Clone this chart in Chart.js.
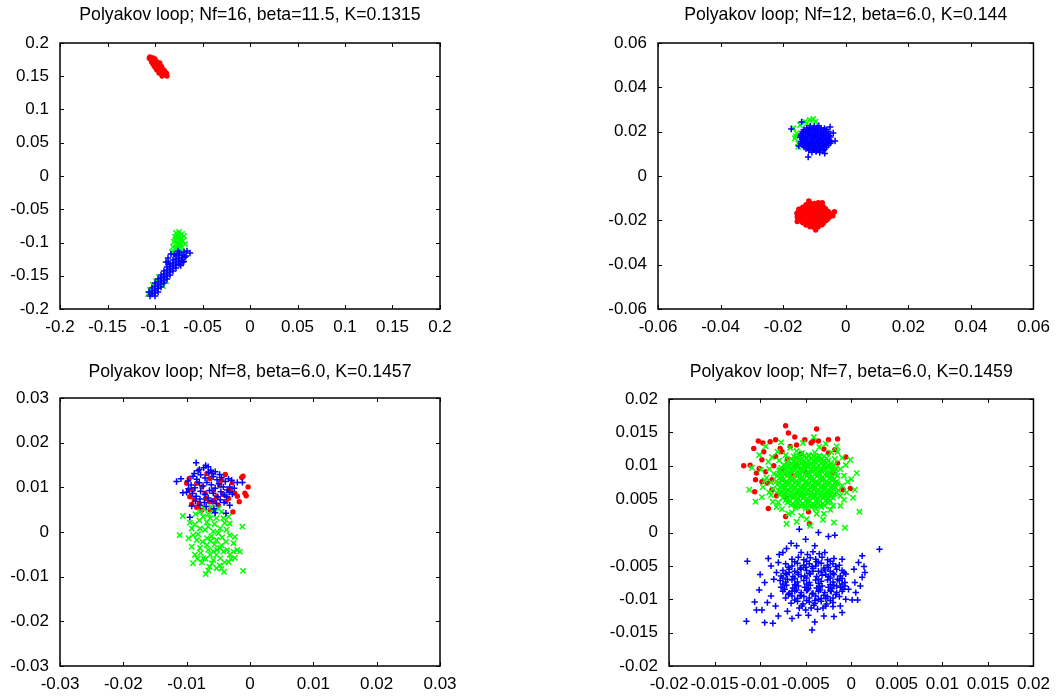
<!DOCTYPE html>
<html>
<head>
<meta charset="utf-8">
<script src="https://cdn.jsdelivr.net/npm/chart.js@4/dist/chart.umd.min.js"></script>
<style>
  html, body { margin: 0; padding: 0; background: #fff; }
  #wrap { position: relative; width: 1058px; height: 696px; overflow: hidden; }
  #wrap canvas { position: absolute; }
</style>
</head>
<body>
<div id="wrap">
  <canvas id="c1" width="529" height="355" style="left:0;top:0"></canvas>
  <canvas id="c2" width="529" height="355" style="left:529px;top:0"></canvas>
  <canvas id="c3" width="529" height="341" style="left:0;top:355px"></canvas>
  <canvas id="c4" width="529" height="341" style="left:529px;top:355px"></canvas>
</div>
<script>
// ---- Panel titles ----
const titles = [
  'Polyakov loop; Nf=16, beta=11.5, K=0.1315',
  'Polyakov loop; Nf=12, beta=6.0, K=0.144',
  'Polyakov loop; Nf=8, beta=6.0, K=0.1457',
  'Polyakov loop; Nf=7, beta=6.0, K=0.1459'
];

// ---- Tick values and labels (same on both axes of each panel) ----
const ticks1 = [-0.2, -0.15, -0.1, -0.05, 0, 0.05, 0.1, 0.15, 0.2];
const labels1 = ['-0.2', '-0.15', '-0.1', '-0.05', '0', '0.05', '0.1', '0.15', '0.2'];
const ticks2 = [-0.06, -0.04, -0.02, 0, 0.02, 0.04, 0.06];
const labels2 = ['-0.06', '-0.04', '-0.02', '0', '0.02', '0.04', '0.06'];
const ticks3 = [-0.03, -0.02, -0.01, 0, 0.01, 0.02, 0.03];
const labels3 = ['-0.03', '-0.02', '-0.01', '0', '0.01', '0.02', '0.03'];
const ticks4 = [-0.02, -0.015, -0.01, -0.005, 0, 0.005, 0.01, 0.015, 0.02];
const labels4 = ['-0.02', '-0.015', '-0.01', '-0.005', '0', '0.005', '0.01', '0.015', '0.02'];

// ---- Panel 1: Nf=16 ----
const p1Red = [
  [-0.1053,0.1789],[-0.1021,0.1774],[-0.1042,0.1744],[-0.1011,0.1729],[-0.0979,0.1714],
  [-0.1021,0.1684],[-0.0989,0.1684],[-0.0958,0.1669],[-0.1000,0.1639],[-0.0968,0.1624],
  [-0.0937,0.1624],[-0.0979,0.1594],[-0.0947,0.1579],[-0.0916,0.1594],[-0.0958,0.1549],
  [-0.0926,0.1549],[-0.0895,0.1564],[-0.0926,0.1504],[-0.0895,0.1519],[-0.0874,0.1504],
  [-0.0905,0.1534],[-0.0937,0.1654],[-0.1000,0.1759],
  [-0.0950,0.1700],[-0.0930,0.1640],[-0.0905,0.1590],[-0.1035,0.1715],[-0.1010,0.1660],
  [-0.0985,0.1610],[-0.0880,0.1545],[-0.1060,0.1770]
];
const p1Green = [
  [-0.0779,-0.0857],[-0.0747,-0.0842],[-0.0716,-0.0872],[-0.0789,-0.0917],[-0.0758,-0.0932],
  [-0.0726,-0.0932],[-0.0695,-0.0902],[-0.0800,-0.0992],[-0.0768,-0.1008],[-0.0737,-0.0992],
  [-0.0705,-0.0977],[-0.0684,-0.1023],[-0.0811,-0.1068],[-0.0779,-0.1083],[-0.0747,-0.1068],
  [-0.0716,-0.1068],[-0.0789,-0.1143],[-0.0726,-0.1128],[-0.0821,-0.1143],
  [-0.0763,-0.0895],[-0.0732,-0.0960],[-0.0785,-0.0960],[-0.0760,-0.1040],[-0.0730,-0.1030],
  [-0.1053,-0.1714],[-0.1021,-0.1639],[-0.0989,-0.1579],[-0.0958,-0.1519],[-0.0916,-0.1654],
  [-0.0884,-0.1579],[-0.0863,-0.1308],[-0.1074,-0.1774]
];
const p1Blue = [
  [-0.1032,-0.1774],[-0.1000,-0.1714],[-0.0968,-0.1639],[-0.0937,-0.1579],[-0.0905,-0.1519],
  [-0.0874,-0.1459],[-0.0842,-0.1398],[-0.0811,-0.1353],[-0.0779,-0.1293],[-0.0747,-0.1233],
  [-0.0716,-0.1188],
  [-0.1000,-0.1805],[-0.0968,-0.1744],[-0.0937,-0.1669],[-0.0905,-0.1609],[-0.0874,-0.1549],
  [-0.0842,-0.1489],[-0.0811,-0.1429],[-0.0779,-0.1383],[-0.0747,-0.1323],[-0.0716,-0.1263],
  [-0.0684,-0.1218],
  [-0.1063,-0.1744],[-0.1032,-0.1684],[-0.1000,-0.1609],[-0.0968,-0.1549],[-0.0937,-0.1489],
  [-0.0905,-0.1429],[-0.0874,-0.1368],[-0.0842,-0.1323],[-0.0811,-0.1263],[-0.0779,-0.1203],
  [-0.0747,-0.1158],
  [-0.1001,-0.1760],[-0.0969,-0.1693],[-0.0938,-0.1625],[-0.0906,-0.1565],[-0.0875,-0.1505],
  [-0.0843,-0.1445],[-0.0812,-0.1392],[-0.0780,-0.1339],[-0.0748,-0.1279],[-0.0717,-0.1227],
  [-0.1031,-0.1728],[-0.0999,-0.1661],[-0.0968,-0.1593],[-0.0936,-0.1533],[-0.0905,-0.1473],
  [-0.0873,-0.1413],[-0.0842,-0.1360],[-0.0810,-0.1307],[-0.0778,-0.1247],[-0.0747,-0.1195],
  [-0.0695,-0.1143],[-0.0663,-0.1128],[-0.0632,-0.1158],[-0.0674,-0.1203],[-0.0758,-0.1128],
  [-0.0884,-0.1293],[-0.0863,-0.1233],[-0.0832,-0.1173],[-0.0705,-0.1293],[-0.1053,-0.1805],
  [-0.0729,-0.1347],[-0.0697,-0.1287],[-0.0797,-0.1179],[-0.0861,-0.1299]
];

// ---- Panel 2: Nf=12 ----
const p2Red = [
  [-0.0115,-0.0121],[-0.0101,-0.0124],[-0.0088,-0.0120],
  [-0.0127,-0.0130],[-0.0114,-0.0132],[-0.0101,-0.0130],[-0.0088,-0.0133],[-0.0076,-0.0131],
  [-0.0137,-0.0141],[-0.0125,-0.0138],[-0.0111,-0.0142],[-0.0098,-0.0139],[-0.0085,-0.0141],[-0.0072,-0.0138],
  [-0.0143,-0.0149],[-0.0130,-0.0150],[-0.0117,-0.0148],[-0.0104,-0.0150],[-0.0091,-0.0148],[-0.0078,-0.0150],[-0.0065,-0.0148],
  [-0.0147,-0.0157],[-0.0133,-0.0160],[-0.0121,-0.0156],[-0.0107,-0.0159],[-0.0094,-0.0156],[-0.0082,-0.0160],[-0.0068,-0.0157],[-0.0057,-0.0159],
  [-0.0152,-0.0166],[-0.0140,-0.0168],[-0.0127,-0.0166],[-0.0114,-0.0168],[-0.0101,-0.0166],[-0.0088,-0.0168],[-0.0075,-0.0166],[-0.0063,-0.0168],[-0.0052,-0.0167],
  [-0.0149,-0.0177],[-0.0135,-0.0174],[-0.0123,-0.0178],[-0.0109,-0.0175],[-0.0096,-0.0178],[-0.0083,-0.0174],[-0.0070,-0.0177],[-0.0057,-0.0175],
  [-0.0152,-0.0185],[-0.0140,-0.0186],[-0.0127,-0.0184],[-0.0114,-0.0186],[-0.0101,-0.0184],[-0.0088,-0.0186],[-0.0075,-0.0184],[-0.0063,-0.0186],[-0.0052,-0.0185],
  [-0.0146,-0.0193],[-0.0133,-0.0196],[-0.0120,-0.0192],[-0.0107,-0.0195],[-0.0094,-0.0193],[-0.0081,-0.0196],[-0.0068,-0.0192],[-0.0058,-0.0195],
  [-0.0142,-0.0203],[-0.0129,-0.0204],[-0.0116,-0.0202],[-0.0103,-0.0204],[-0.0090,-0.0202],[-0.0077,-0.0204],[-0.0064,-0.0202],
  [-0.0137,-0.0211],[-0.0124,-0.0214],[-0.0111,-0.0210],[-0.0098,-0.0213],[-0.0085,-0.0211],[-0.0072,-0.0214],
  [-0.0127,-0.0221],[-0.0114,-0.0222],[-0.0101,-0.0220],[-0.0088,-0.0222],[-0.0076,-0.0220],
  [-0.0114,-0.0229],[-0.0101,-0.0232],[-0.0088,-0.0229],
  [-0.0036,-0.0161],[-0.0041,-0.0179],[-0.0096,-0.0244],[-0.0155,-0.0205],[-0.0150,-0.0150],
  [-0.0118,-0.0113],[-0.0075,-0.0120],[-0.0155,-0.0185],[-0.0156,-0.0168]
];
const p2Green = [
  [-0.0167,0.0215],[-0.0162,0.0170],[-0.0152,0.0148],[-0.0157,0.0193],[-0.0115,0.0253],
  [-0.0104,0.0257],[-0.0130,0.0245],[-0.0146,0.0230],[-0.0152,0.0132],[-0.0120,0.0180],
  [-0.0090,0.0160],[-0.0135,0.0155],[-0.0105,0.0210],[-0.0075,0.0130],[-0.0160,0.0180],
  [-0.0125,0.0238],[-0.0097,0.0245]
];
const p2Blue = [
  [-0.0113,0.0226],[-0.0100,0.0223],[-0.0086,0.0227],
  [-0.0125,0.0216],[-0.0115,0.0218],[-0.0103,0.0215],[-0.0091,0.0218],[-0.0079,0.0216],[-0.0068,0.0214],
  [-0.0134,0.0209],[-0.0121,0.0206],[-0.0110,0.0211],[-0.0096,0.0207],[-0.0086,0.0210],[-0.0072,0.0205],[-0.0062,0.0209],
  [-0.0138,0.0199],[-0.0126,0.0201],[-0.0114,0.0198],[-0.0101,0.0201],[-0.0089,0.0199],[-0.0077,0.0202],[-0.0065,0.0198],[-0.0055,0.0200],
  [-0.0142,0.0190],[-0.0128,0.0193],[-0.0118,0.0189],[-0.0104,0.0192],[-0.0094,0.0188],[-0.0080,0.0193],[-0.0070,0.0189],[-0.0056,0.0191],
  [-0.0144,0.0182],[-0.0135,0.0184],[-0.0124,0.0181],[-0.0112,0.0184],[-0.0100,0.0182],[-0.0088,0.0185],[-0.0077,0.0181],[-0.0065,0.0183],[-0.0053,0.0182],
  [-0.0146,0.0175],[-0.0132,0.0172],[-0.0122,0.0176],[-0.0108,0.0173],[-0.0098,0.0177],[-0.0084,0.0172],[-0.0074,0.0175],[-0.0060,0.0173],[-0.0049,0.0176],
  [-0.0139,0.0166],[-0.0126,0.0164],[-0.0114,0.0167],[-0.0102,0.0165],[-0.0090,0.0167],[-0.0078,0.0164],[-0.0065,0.0166],[-0.0053,0.0164],
  [-0.0143,0.0156],[-0.0130,0.0159],[-0.0120,0.0155],[-0.0106,0.0158],[-0.0094,0.0155],[-0.0082,0.0159],[-0.0070,0.0156],[-0.0058,0.0158],[-0.0046,0.0155],
  [-0.0143,0.0148],[-0.0134,0.0149],[-0.0122,0.0147],[-0.0110,0.0150],[-0.0098,0.0147],[-0.0086,0.0149],[-0.0074,0.0147],[-0.0062,0.0150],[-0.0050,0.0148],
  [-0.0139,0.0141],[-0.0127,0.0138],[-0.0115,0.0142],[-0.0103,0.0139],[-0.0091,0.0141],[-0.0079,0.0138],[-0.0067,0.0142],[-0.0056,0.0139],
  [-0.0133,0.0131],[-0.0121,0.0133],[-0.0109,0.0130],[-0.0097,0.0132],[-0.0085,0.0130],[-0.0073,0.0133],[-0.0062,0.0130],
  [-0.0127,0.0124],[-0.0115,0.0121],[-0.0103,0.0125],[-0.0091,0.0122],[-0.0079,0.0124],[-0.0068,0.0121],
  [-0.0118,0.0115],[-0.0106,0.0117],[-0.0094,0.0114],[-0.0082,0.0116],[-0.0072,0.0114],
  [-0.0108,0.0107],[-0.0095,0.0110],[-0.0083,0.0106],
  [-0.0120,0.0086],[-0.0174,0.0212],[-0.0141,0.0244],[-0.0034,0.0158],[-0.0050,0.0221],
  [-0.0040,0.0194],[-0.0067,0.0102],[-0.0150,0.0135]
];

// ---- Panel 3: Nf=8 ----
const p3Red = [
  [-0.0096,0.0120],[-0.0100,0.0109],[-0.0097,0.0094],[-0.0095,0.0079],[-0.0088,0.0073],
  [-0.0080,0.0064],[-0.0076,0.0049],[-0.0064,0.0068],[-0.0063,0.0049],[-0.0050,0.0060],
  [-0.0038,0.0068],[-0.0034,0.0075],[-0.0027,0.0045],[-0.0017,0.0068],[-0.0008,0.0087],
  [-0.0006,0.0081],[-0.0003,0.0101],[-0.0013,0.0122],[-0.0011,0.0125],[-0.0039,0.0129],
  [-0.0045,0.0116],[-0.0031,0.0094],[-0.0024,0.0087],[-0.0063,0.0120],[-0.0076,0.0101],
  [-0.0071,0.0087],[-0.0058,0.0094],[-0.0053,0.0079],[-0.0084,0.0109],[-0.0090,0.0094],
  [-0.0068,0.0131],[-0.0084,0.0055],[-0.0043,0.0084],[-0.0048,0.0104],
  [-0.0057,0.0070],[-0.0070,0.0075],[-0.0028,0.0110],[-0.0020,0.0080],[-0.0092,0.0062]
];
const p3Green = [
  [-0.0106,0.0036],[-0.0111,-0.0007],[-0.0095,0.0021],[-0.0097,-0.0014],[-0.0090,-0.0070],
  [-0.0076,-0.0068],[-0.0070,-0.0094],[-0.0064,-0.0078],[-0.0053,-0.0081],[-0.0041,-0.0089],
  [-0.0011,-0.0087],[-0.0012,0.0012],[-0.0020,-0.0040],[-0.0024,-0.0058],[-0.0032,0.0019],
  [-0.0032,-0.0007],[-0.0026,-0.0025],[-0.0038,-0.0022],[-0.0047,-0.0036],[-0.0058,-0.0044],
  [-0.0068,-0.0029],[-0.0079,-0.0036],[-0.0087,-0.0051],[-0.0092,-0.0033],[-0.0090,-0.0007],
  [-0.0079,0.0008],[-0.0066,0.0012],[-0.0058,0.0001],[-0.0047,0.0008],[-0.0042,0.0031],
  [-0.0053,0.0031],[-0.0063,0.0031],[-0.0074,0.0034],[-0.0079,0.0045],[-0.0058,0.0045],
  [-0.0045,0.0045],[-0.0034,0.0034],[-0.0068,-0.0014],[-0.0053,-0.0018],[-0.0074,-0.0059],
  [-0.0058,-0.0063],[-0.0047,-0.0059],[-0.0034,-0.0067],[-0.0032,-0.0051],[-0.0042,-0.0044],
  [-0.0084,-0.0018],[-0.0092,0.0008],[-0.0063,-0.0051],[-0.0053,-0.0051],[-0.0026,-0.0044],
  [-0.0016,-0.0044],[-0.0024,-0.0011],
  [-0.0087,0.0017],[-0.0082,-0.0005],[-0.0071,0.0005],[-0.0061,-0.0010],[-0.0050,-0.0003],
  [-0.0044,-0.0012],[-0.0037,0.0005],[-0.0078,-0.0047],[-0.0066,-0.0040],[-0.0056,-0.0028],
  [-0.0045,-0.0030],[-0.0036,-0.0040],[-0.0060,-0.0070],[-0.0048,-0.0075],[-0.0070,-0.0060],
  [-0.0083,-0.0060],[-0.0056,0.0018],[-0.0068,0.0022],[-0.0080,0.0026],[-0.0030,-0.0060],
  [-0.0040,-0.0068],[-0.0072,0.0052],[-0.0061,0.0056],[-0.0050,0.0052],
  [-0.0086,0.0040],[-0.0066,0.0040],[-0.0040,0.0020],[-0.0075,-0.0022],[-0.0062,-0.0020],
  [-0.0052,-0.0040],[-0.0066,-0.0086],[-0.0045,-0.0082]
];
const p3Blue = [
  [-0.0085,0.0155],[-0.0116,0.0113],[-0.0109,0.0119],[-0.0098,0.0114],[-0.0106,0.0088],
  [-0.0100,0.0089],[-0.0092,0.0058],[-0.0095,0.0033],[-0.0073,0.0144],[-0.0066,0.0146],
  [-0.0080,0.0140],[-0.0088,0.0131],[-0.0060,0.0131],[-0.0048,0.0129],[-0.0020,0.0111],
  [-0.0012,0.0111],[-0.0029,0.0116],[-0.0032,0.0101],[-0.0037,0.0079],[-0.0032,0.0060],
  [-0.0038,0.0042],[-0.0055,0.0043],[-0.0079,0.0060],
  [-0.0090,0.0125],[-0.0084,0.0118],[-0.0078,0.0128],[-0.0071,0.0121],[-0.0065,0.0133],
  [-0.0058,0.0124],[-0.0052,0.0117],[-0.0045,0.0122],[-0.0039,0.0113],[-0.0034,0.0119],
  [-0.0093,0.0105],[-0.0087,0.0099],[-0.0080,0.0110],[-0.0074,0.0103],[-0.0068,0.0111],
  [-0.0061,0.0106],[-0.0055,0.0098],[-0.0049,0.0108],[-0.0042,0.0101],[-0.0036,0.0094],
  [-0.0091,0.0086],[-0.0085,0.0080],[-0.0078,0.0091],[-0.0071,0.0084],[-0.0064,0.0093],
  [-0.0058,0.0087],[-0.0051,0.0079],[-0.0046,0.0090],[-0.0040,0.0083],[-0.0033,0.0089],
  [-0.0086,0.0069],[-0.0079,0.0074],[-0.0072,0.0066],[-0.0066,0.0076],[-0.0060,0.0069],
  [-0.0053,0.0064],[-0.0047,0.0072],[-0.0041,0.0066],[-0.0069,0.0057],[-0.0057,0.0052],
  [-0.0062,0.0138],[-0.0070,0.0149],[-0.0082,0.0137],
  [-0.0055,0.0135],[-0.0025,0.0098],[-0.0028,0.0085],[-0.0097,0.0097]
];

// ---- Panel 4: Nf=7 ----
const p4Red = [
  [-0.0072,0.0160],[-0.0038,0.0155],[-0.0069,0.0149],[-0.0102,0.0137],[-0.0097,0.0134],
  [-0.0107,0.0126],[-0.0118,0.0100],[-0.0111,0.0101],[-0.0104,0.0089],[-0.0105,0.0079],
  [-0.0106,0.0061],[-0.0091,0.0036],[-0.0072,0.0024],[-0.0046,0.0013],[-0.0015,0.0140],
  [-0.0025,0.0139],[-0.0006,0.0113],[-0.0001,0.0066],[-0.0009,0.0064],[-0.0089,0.0136],
  [-0.0083,0.0139],[-0.0062,0.0143],[-0.0051,0.0139],[-0.0042,0.0137],[-0.0036,0.0137],
  [-0.0060,0.0131],[-0.0067,0.0129],[-0.0078,0.0126],[-0.0096,0.0121],[-0.0098,0.0109],
  [-0.0101,0.0096],[-0.0098,0.0076],[-0.0092,0.0074],[-0.0087,0.0064],[-0.0082,0.0055],
  [-0.0071,0.0051],[-0.0047,0.0031],[-0.0025,0.0119],[-0.0018,0.0124],[-0.0015,0.0104],
  [-0.0044,0.0134],[-0.0076,0.0121],[-0.0083,0.0114],[-0.0094,0.0091],[-0.0087,0.0079],
  [-0.0070,0.0110],[-0.0060,0.0100],[-0.0050,0.0090],[-0.0075,0.0095],[-0.0065,0.0085],
  [-0.0055,0.0118],[-0.0030,0.0125],[-0.0085,0.0100],[-0.0020,0.0090]
];
const p4Green = [
  [-0.0054,0.0119],[-0.0047,0.0116],[-0.0040,0.0120],
  [-0.0063,0.0114],[-0.0057,0.0115],[-0.0052,0.0114],[-0.0046,0.0115],[-0.0041,0.0114],[-0.0035,0.0115],[-0.0030,0.0114],
  [-0.0066,0.0110],[-0.0060,0.0113],[-0.0055,0.0109],[-0.0049,0.0112],[-0.0044,0.0110],[-0.0038,0.0113],[-0.0033,0.0109],[-0.0027,0.0111],
  [-0.0069,0.0108],[-0.0063,0.0107],[-0.0058,0.0108],[-0.0052,0.0107],[-0.0047,0.0108],[-0.0041,0.0107],[-0.0036,0.0108],[-0.0030,0.0107],[-0.0025,0.0108],
  [-0.0071,0.0105],[-0.0066,0.0102],[-0.0060,0.0106],[-0.0055,0.0103],[-0.0050,0.0105],[-0.0044,0.0102],[-0.0039,0.0106],[-0.0033,0.0103],[-0.0028,0.0105],[-0.0022,0.0102],
  [-0.0074,0.0101],[-0.0069,0.0100],[-0.0063,0.0101],[-0.0058,0.0100],[-0.0052,0.0101],[-0.0047,0.0100],[-0.0041,0.0101],[-0.0036,0.0100],[-0.0030,0.0101],[-0.0025,0.0100],[-0.0019,0.0101],
  [-0.0077,0.0097],[-0.0071,0.0099],[-0.0066,0.0096],[-0.0060,0.0099],[-0.0055,0.0097],[-0.0049,0.0100],[-0.0044,0.0096],[-0.0038,0.0098],[-0.0033,0.0096],[-0.0027,0.0099],[-0.0021,0.0097],
  [-0.0078,0.0094],[-0.0072,0.0095],[-0.0066,0.0094],[-0.0061,0.0095],[-0.0055,0.0094],[-0.0050,0.0095],[-0.0044,0.0094],[-0.0039,0.0095],[-0.0033,0.0094],[-0.0028,0.0095],[-0.0022,0.0094],[-0.0017,0.0095],
  [-0.0079,0.0092],[-0.0074,0.0089],[-0.0068,0.0091],[-0.0063,0.0093],[-0.0057,0.0090],[-0.0052,0.0092],[-0.0046,0.0089],[-0.0041,0.0092],[-0.0035,0.0090],[-0.0030,0.0093],[-0.0024,0.0090],[-0.0018,0.0092],
  [-0.0079,0.0088],[-0.0073,0.0087],[-0.0068,0.0088],[-0.0062,0.0087],[-0.0057,0.0088],[-0.0051,0.0087],[-0.0046,0.0088],[-0.0040,0.0087],[-0.0035,0.0088],[-0.0029,0.0087],[-0.0024,0.0088],[-0.0018,0.0087],
  [-0.0081,0.0085],[-0.0076,0.0083],[-0.0070,0.0086],[-0.0065,0.0083],[-0.0059,0.0085],[-0.0054,0.0082],[-0.0048,0.0086],[-0.0043,0.0083],[-0.0037,0.0085],[-0.0032,0.0082],[-0.0026,0.0086],[-0.0021,0.0083],[-0.0015,0.0085],
  [-0.0079,0.0081],[-0.0074,0.0080],[-0.0068,0.0081],[-0.0063,0.0080],[-0.0057,0.0081],[-0.0052,0.0080],[-0.0046,0.0081],[-0.0041,0.0080],[-0.0035,0.0081],[-0.0030,0.0080],[-0.0024,0.0081],[-0.0019,0.0080],
  [-0.0082,0.0077],[-0.0077,0.0079],[-0.0071,0.0076],[-0.0066,0.0079],[-0.0060,0.0077],[-0.0055,0.0080],[-0.0049,0.0076],[-0.0044,0.0078],[-0.0038,0.0076],[-0.0033,0.0079],[-0.0027,0.0077],[-0.0022,0.0079],[-0.0016,0.0076],
  [-0.0079,0.0074],[-0.0073,0.0075],[-0.0068,0.0074],[-0.0062,0.0075],[-0.0057,0.0074],[-0.0051,0.0075],[-0.0046,0.0074],[-0.0040,0.0075],[-0.0035,0.0074],[-0.0029,0.0075],[-0.0024,0.0074],[-0.0018,0.0075],
  [-0.0081,0.0072],[-0.0075,0.0070],[-0.0070,0.0073],[-0.0064,0.0070],[-0.0059,0.0072],[-0.0053,0.0069],[-0.0048,0.0072],[-0.0042,0.0070],[-0.0037,0.0073],[-0.0031,0.0069],[-0.0026,0.0072],[-0.0020,0.0070],[-0.0015,0.0073],
  [-0.0078,0.0068],[-0.0072,0.0067],[-0.0067,0.0068],[-0.0061,0.0067],[-0.0056,0.0068],[-0.0050,0.0067],[-0.0045,0.0068],[-0.0039,0.0067],[-0.0034,0.0068],[-0.0028,0.0067],[-0.0023,0.0068],[-0.0017,0.0067],
  [-0.0080,0.0063],[-0.0074,0.0066],[-0.0069,0.0063],[-0.0063,0.0065],[-0.0058,0.0062],[-0.0052,0.0065],[-0.0047,0.0063],[-0.0041,0.0066],[-0.0036,0.0063],[-0.0030,0.0065],[-0.0025,0.0062],[-0.0019,0.0065],[-0.0014,0.0063],
  [-0.0077,0.0061],[-0.0071,0.0060],[-0.0066,0.0061],[-0.0060,0.0060],[-0.0055,0.0061],[-0.0049,0.0060],[-0.0044,0.0061],[-0.0038,0.0060],[-0.0033,0.0061],[-0.0027,0.0060],[-0.0022,0.0061],[-0.0016,0.0060],
  [-0.0078,0.0057],[-0.0073,0.0059],[-0.0067,0.0056],[-0.0062,0.0059],[-0.0056,0.0057],[-0.0051,0.0059],[-0.0045,0.0056],[-0.0040,0.0058],[-0.0034,0.0056],[-0.0029,0.0059],[-0.0023,0.0057],[-0.0018,0.0058],
  [-0.0073,0.0054],[-0.0067,0.0055],[-0.0062,0.0054],[-0.0056,0.0055],[-0.0051,0.0054],[-0.0045,0.0055],[-0.0040,0.0054],[-0.0034,0.0055],[-0.0029,0.0054],[-0.0023,0.0055],
  [-0.0075,0.0052],[-0.0069,0.0050],[-0.0064,0.0053],[-0.0058,0.0050],[-0.0053,0.0052],[-0.0047,0.0049],[-0.0042,0.0052],[-0.0036,0.0050],[-0.0031,0.0053],[-0.0025,0.0050],[-0.0020,0.0052],
  [-0.0072,0.0048],[-0.0067,0.0047],[-0.0061,0.0048],[-0.0056,0.0047],[-0.0050,0.0048],[-0.0045,0.0047],[-0.0039,0.0048],[-0.0034,0.0047],[-0.0028,0.0048],[-0.0023,0.0047],
  [-0.0070,0.0045],[-0.0064,0.0043],[-0.0059,0.0046],[-0.0053,0.0043],[-0.0048,0.0045],[-0.0042,0.0042],[-0.0037,0.0045],[-0.0031,0.0043],[-0.0026,0.0045],
  [-0.0066,0.0041],[-0.0061,0.0040],[-0.0056,0.0041],[-0.0050,0.0040],[-0.0045,0.0041],[-0.0039,0.0040],[-0.0034,0.0041],[-0.0029,0.0040],
  [-0.0061,0.0037],[-0.0055,0.0039],[-0.0050,0.0036],[-0.0044,0.0038],[-0.0039,0.0036],[-0.0033,0.0038],
  [-0.0112,0.0064],[-0.0105,0.0046],[0.0009,0.0031],[0.0006,0.0089],[0.0004,0.0064],
  [-0.0019,0.0015],[-0.0007,0.0007],[-0.0031,0.0019],[-0.0060,0.0016],[-0.0049,0.0020],
  [-0.0041,0.0143],[-0.0077,0.0135],[-0.0101,0.0116],[-0.0109,0.0097],[-0.0094,0.0129],
  [-0.0016,0.0129],[-0.0091,0.0106],[-0.0093,0.0082],[-0.0088,0.0056],[-0.0082,0.0038],
  [-0.0069,0.0028],[-0.0038,0.0028],[-0.0023,0.0034],[-0.0008,0.0049],[-0.0004,0.0076],
  [-0.0006,0.0101],[-0.0015,0.0121],[-0.0028,0.0133],[-0.0053,0.0134],[-0.0067,0.0127],
  [-0.0081,0.0121],[0.0002,0.0052],[-0.0001,0.0109],[-0.0099,0.0094],[-0.0097,0.0068],
  [-0.0071,0.0013],[-0.0045,0.0010],[-0.0098,0.0053],[-0.0087,0.0113],[-0.0012,0.0040],
  [-0.0010,0.0112],[-0.0086,0.0046],
  [-0.0090,0.0095],[-0.0088,0.0075],[-0.0085,0.0088],[-0.0086,0.0065],[-0.0090,0.0060],
  [-0.0080,0.0045],[-0.0076,0.0035],[-0.0065,0.0030],[-0.0055,0.0025],[-0.0030,0.0028],
  [-0.0020,0.0040],[-0.0012,0.0055],[-0.0010,0.0070],[-0.0008,0.0085],[-0.0012,0.0095],
  [-0.0018,0.0110],[-0.0022,0.0120],[-0.0035,0.0128],[-0.0060,0.0122],[-0.0072,0.0116],
  [-0.0079,0.0108],[-0.0005,0.0060],[0.0000,0.0080],[-0.0095,0.0078]
];
const p4Blue = [
  [-0.0055,-0.0030],[-0.0048,-0.0033],[-0.0042,-0.0029],[-0.0035,-0.0032],[-0.0029,-0.0030],
  [-0.0065,-0.0040],[-0.0058,-0.0037],[-0.0052,-0.0041],[-0.0045,-0.0038],[-0.0039,-0.0040],[-0.0032,-0.0037],[-0.0026,-0.0041],[-0.0019,-0.0039],
  [-0.0062,-0.0044],[-0.0049,-0.0043],[-0.0036,-0.0045],[-0.0023,-0.0043],
  [-0.0072,-0.0047],[-0.0065,-0.0050],[-0.0059,-0.0046],[-0.0052,-0.0049],[-0.0046,-0.0047],[-0.0039,-0.0050],[-0.0033,-0.0046],[-0.0026,-0.0049],[-0.0020,-0.0047],[-0.0013,-0.0049],
  [-0.0069,-0.0052],[-0.0056,-0.0053],[-0.0043,-0.0051],[-0.0030,-0.0053],[-0.0017,-0.0051],
  [-0.0075,-0.0057],[-0.0068,-0.0055],[-0.0062,-0.0058],[-0.0055,-0.0055],[-0.0049,-0.0057],[-0.0042,-0.0054],[-0.0036,-0.0058],[-0.0029,-0.0056],[-0.0023,-0.0058],[-0.0016,-0.0055],[-0.0010,-0.0057],
  [-0.0072,-0.0061],[-0.0059,-0.0060],[-0.0046,-0.0061],[-0.0033,-0.0059],[-0.0020,-0.0061],[-0.0008,-0.0060],
  [-0.0077,-0.0065],[-0.0071,-0.0063],[-0.0064,-0.0066],[-0.0058,-0.0063],[-0.0051,-0.0065],[-0.0045,-0.0062],[-0.0038,-0.0066],[-0.0032,-0.0064],[-0.0025,-0.0066],[-0.0019,-0.0063],[-0.0012,-0.0065],[-0.0006,-0.0062],
  [-0.0075,-0.0068],[-0.0062,-0.0069],[-0.0049,-0.0068],[-0.0036,-0.0070],[-0.0023,-0.0068],[-0.0010,-0.0069],
  [-0.0078,-0.0072],[-0.0072,-0.0074],[-0.0065,-0.0071],[-0.0059,-0.0074],[-0.0052,-0.0072],[-0.0046,-0.0075],[-0.0039,-0.0071],[-0.0033,-0.0073],[-0.0026,-0.0071],[-0.0020,-0.0074],[-0.0013,-0.0072],[-0.0007,-0.0075],
  [-0.0075,-0.0077],[-0.0062,-0.0078],[-0.0049,-0.0077],[-0.0036,-0.0076],[-0.0023,-0.0078],[-0.0010,-0.0077],
  [-0.0077,-0.0082],[-0.0071,-0.0079],[-0.0064,-0.0083],[-0.0058,-0.0080],[-0.0051,-0.0082],[-0.0045,-0.0079],[-0.0038,-0.0083],[-0.0032,-0.0080],[-0.0025,-0.0082],[-0.0019,-0.0079],[-0.0012,-0.0082],[-0.0007,-0.0080],
  [-0.0073,-0.0085],[-0.0060,-0.0086],[-0.0047,-0.0084],[-0.0034,-0.0086],[-0.0021,-0.0084],[-0.0009,-0.0085],
  [-0.0075,-0.0088],[-0.0068,-0.0091],[-0.0062,-0.0088],[-0.0055,-0.0090],[-0.0049,-0.0087],[-0.0042,-0.0091],[-0.0036,-0.0088],[-0.0029,-0.0090],[-0.0023,-0.0087],[-0.0016,-0.0090],[-0.0010,-0.0088],
  [-0.0069,-0.0093],[-0.0056,-0.0094],[-0.0043,-0.0092],[-0.0030,-0.0094],[-0.0017,-0.0093],
  [-0.0072,-0.0098],[-0.0065,-0.0095],[-0.0059,-0.0099],[-0.0052,-0.0096],[-0.0046,-0.0098],[-0.0039,-0.0095],[-0.0033,-0.0099],[-0.0026,-0.0096],[-0.0020,-0.0098],[-0.0013,-0.0096],
  [-0.0062,-0.0101],[-0.0049,-0.0102],[-0.0036,-0.0100],[-0.0023,-0.0102],
  [-0.0066,-0.0106],[-0.0059,-0.0103],[-0.0053,-0.0107],[-0.0046,-0.0104],[-0.0040,-0.0106],[-0.0033,-0.0103],[-0.0027,-0.0107],[-0.0020,-0.0105],
  [-0.0054,-0.0110],[-0.0041,-0.0109],[-0.0028,-0.0110],
  [-0.0057,-0.0113],[-0.0050,-0.0116],[-0.0044,-0.0113],[-0.0037,-0.0115],[-0.0031,-0.0113],
  [-0.0068,-0.0060],[-0.0055,-0.0066],[-0.0042,-0.0058],[-0.0028,-0.0063],[-0.0015,-0.0070],
  [-0.0061,-0.0079],[-0.0048,-0.0086],[-0.0035,-0.0081],[-0.0022,-0.0088],[-0.0055,-0.0095],
  [-0.0040,-0.0102],[-0.0028,-0.0099],[-0.0065,-0.0088],[-0.0050,-0.0052],[-0.0038,-0.0044],
  [-0.0025,-0.0052],[-0.0070,-0.0070],[-0.0016,-0.0080],
  [-0.0114,-0.0043],[0.0031,-0.0025],[-0.0057,0.0005],[-0.0036,0.0000],[-0.0018,-0.0004],
  [-0.0025,-0.0006],[-0.0066,-0.0016],[0.0012,-0.0035],[0.0014,-0.0051],[0.0015,-0.0060],
  [0.0012,-0.0067],[-0.0091,-0.0039],[-0.0088,-0.0050],[-0.0101,-0.0086],[-0.0106,-0.0104],
  [-0.0104,-0.0116],[-0.0115,-0.0133],[-0.0095,-0.0135],[-0.0086,-0.0136],[-0.0043,-0.0146],
  [-0.0040,-0.0134],[-0.0019,-0.0126],[0.0007,-0.0101],[0.0001,-0.0101],[-0.0006,-0.0100],
  [0.0004,-0.0075],[-0.0079,-0.0033],[-0.0065,-0.0129],[-0.0020,-0.0111],[-0.0071,-0.0024],
  [-0.0085,-0.0070],[-0.0088,-0.0095],[-0.0083,-0.0110],[0.0003,-0.0055],[-0.0003,-0.0085],
  [-0.0010,-0.0040],[-0.0070,-0.0118],[-0.0047,-0.0124],[-0.0012,-0.0110],[-0.0082,-0.0060],
  [-0.0100,-0.0063],[-0.0095,-0.0075],[-0.0092,-0.0105],[-0.0080,-0.0125],[-0.0058,-0.0124],
  [-0.0030,-0.0125],[0.0008,-0.0045],[0.0005,-0.0090],[-0.0010,-0.0120],[-0.0060,-0.0020],
  [-0.0040,-0.0020],[-0.0080,-0.0045],[0.0010,-0.0080],[-0.0098,-0.0116],[-0.0075,-0.0030],
  [-0.0050,-0.0010]
];

// ---- Drawing ----
const FONT = '"Liberation Sans", Arial, Helvetica, sans-serif';
const TICK_LEN = 4;
const TITLE_SIZE = 17.7;
const TITLE_LH = 1.2;

// gnuplot-style frame with inward tick marks mirrored on all four sides
const frameTicks = {
  id: 'frameTicks',
  afterDraw(chart) {
    const { ctx, chartArea: a, scales } = chart;
    const xs = scales.x, ys = scales.y;
    ctx.save();
    ctx.strokeStyle = '#000';
    ctx.lineWidth = 1;
    ctx.beginPath();
    xs.ticks.forEach(t => {
      const px = Math.round(xs.getPixelForValue(t.value)) + 0.5;
      ctx.moveTo(px, a.bottom); ctx.lineTo(px, a.bottom - TICK_LEN);
      ctx.moveTo(px, a.top); ctx.lineTo(px, a.top + TICK_LEN);
    });
    ys.ticks.forEach(t => {
      const py = Math.round(ys.getPixelForValue(t.value)) + 0.5;
      ctx.moveTo(a.left, py); ctx.lineTo(a.left + TICK_LEN, py);
      ctx.moveTo(a.right, py); ctx.lineTo(a.right - TICK_LEN, py);
    });
    ctx.stroke();
    ctx.lineWidth = 1.5;
    ctx.strokeRect(a.left, a.top, a.right - a.left, a.bottom - a.top);
    ctx.restore();
  }
};

const toPts = arr => arr.map(p => ({ x: p[0], y: p[1] }));

function axis(values, labels, fit, padding) {
  return {
    type: 'linear',
    min: values[0],
    max: values[values.length - 1],
    afterBuildTicks: s => { s.ticks = values.map(v => ({ value: v })); },
    afterFit: fit,
    grid: { display: false, drawTicks: false },
    border: { display: false },
    ticks: {
      autoSkip: false, maxRotation: 0, minRotation: 0, padding: padding,
      color: '#000', font: { family: FONT, size: 17 },
      callback: (v, i) => labels[i]
    }
  };
}

function panel(id, title, tv, tl, red, green, blue, box) {
  const cv = document.getElementById(id);
  const W = cv.width, H = cv.height;
  return new Chart(cv, {
    type: 'scatter',
    data: {
      datasets: [
        { data: toPts(red), order: 3, pointStyle: 'circle', pointRadius: 2.7,
          backgroundColor: '#ff0000', borderColor: '#ff0000', borderWidth: 0 },
        { data: toPts(green), order: 2, pointStyle: 'crossRot', pointRadius: 3.8,
          borderColor: '#00ff00', backgroundColor: '#00ff00', borderWidth: 1.5 },
        { data: toPts(blue), order: 1, pointStyle: 'cross', pointRadius: 3.2,
          borderColor: '#0000ff', backgroundColor: '#0000ff', borderWidth: 1.5 }
      ]
    },
    options: {
      responsive: false,
      devicePixelRatio: 1,
      animation: false,
      events: [],
      layout: { padding: { left: 0, top: 0, bottom: 0, right: W - box.right } },
      plugins: {
        legend: { display: false },
        tooltip: { enabled: false },
        title: {
          display: true, text: title, fullSize: false, color: '#000',
          font: { family: FONT, size: TITLE_SIZE, weight: 'normal', lineHeight: TITLE_LH },
          padding: { top: box.tTop, bottom: box.top - box.tTop - TITLE_SIZE * TITLE_LH }
        }
      },
      scales: {
        x: axis(tv, tl, s => { s.height = H - box.bottom; }, 8),
        y: axis(tv, tl, s => { s.width = box.left; }, 11)
      }
    },
    plugins: [frameTicks]
  });
}

panel('c1', titles[0], ticks1, labels1, p1Red, p1Green, p1Blue,
      { left: 60, top: 43, right: 440, bottom: 309, tTop: 4.5 });
panel('c2', titles[1], ticks2, labels2, p2Red, p2Green, p2Blue,
      { left: 129, top: 43, right: 509, bottom: 309, tTop: 4.5 });
panel('c3', titles[2], ticks3, labels3, p3Red, p3Green, p3Blue,
      { left: 60, top: 43, right: 440, bottom: 311, tTop: 6.5 });
panel('c4', titles[3], ticks4, labels4, p4Red, p4Green, p4Blue,
      { left: 140, top: 44, right: 509, bottom: 311, tTop: 6.5 });
</script>
</body>
</html>
